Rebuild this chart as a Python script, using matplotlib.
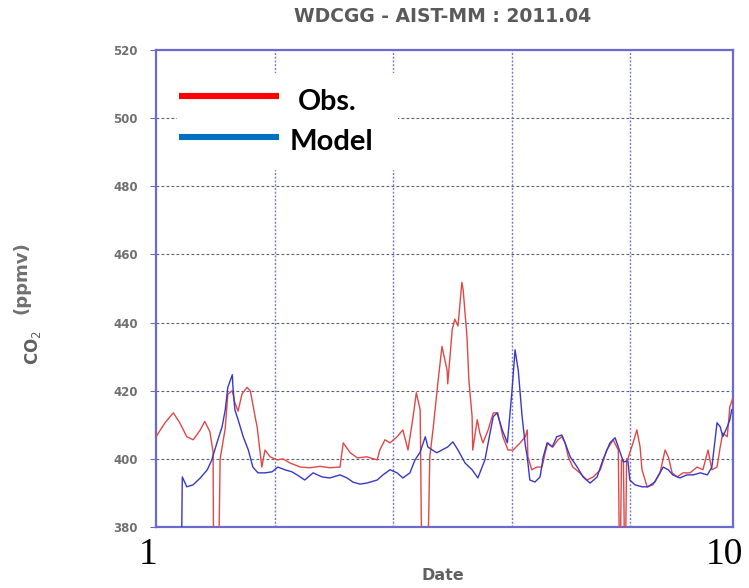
import matplotlib
matplotlib.use("Agg")
import matplotlib.pyplot as plt
from matplotlib.lines import Line2D
from matplotlib.patches import Rectangle

# ---- data (April 2011, station AIST-MM) ----
obs_date = [1.00, 1.14, 1.27, 1.37, 1.48, 1.58, 1.69, 1.76, 1.84, 1.89, 1.90, 1.97,
            2.00, 2.08, 2.12, 2.19, 2.23, 2.28, 2.34, 2.42, 2.47, 2.58, 2.65, 2.70,
            2.78, 2.89, 2.98, 3.09, 3.25, 3.40, 3.56, 3.71, 3.87, 3.92, 4.03, 4.14,
            4.29, 4.45, 4.49, 4.57, 4.65, 4.76, 4.85, 4.93, 5.01, 5.06, 5.12, 5.15,
            5.23, 5.27, 5.32, 5.40, 5.46, 5.54, 5.55, 5.62, 5.66, 5.71, 5.77, 5.79,
            5.85, 5.88, 5.93, 5.94, 6.01, 6.05, 6.10, 6.18, 6.26, 6.33, 6.41, 6.49,
            6.57, 6.68, 6.76, 6.79, 6.80, 6.86, 6.94, 7.02, 7.07, 7.11, 7.19, 7.27,
            7.33, 7.38, 7.43, 7.50, 7.61, 7.72, 7.82, 7.93, 8.03, 8.13, 8.21, 8.235,
            8.26, 8.29, 8.315, 8.34, 8.36, 8.44, 8.50, 8.55, 8.58, 8.66, 8.75, 8.86,
            8.94, 8.99, 9.05, 9.13, 9.22, 9.33, 9.44, 9.53, 9.61, 9.67, 9.75, 9.80,
            9.84, 9.91, 9.95, 10.00]
obs_co2 = [406.5, 410.6, 413.5, 410.6, 406.5, 405.6, 408.5, 411.0, 408.0, 402.0, 360, 360,
           400.0, 409.0, 419.0, 420.0, 416.5, 414.0, 419.0, 421.0, 420.0, 409.0, 397.6, 402.6,
           400.6, 399.7, 400.0, 398.8, 397.6, 397.4, 397.8, 397.4, 397.6, 404.7, 401.8, 400.3,
           400.6, 399.7, 402.6, 405.6, 404.7, 406.5, 408.5, 402.6, 412.4, 419.4, 414.4, 360,
           360, 400.6, 408.5, 423.0, 433.0, 426.0, 422.0, 438.0, 441.0, 439.0, 451.8, 449.7,
           435.9, 423.0, 412.4, 402.6, 411.5, 407.6, 404.7, 408.5, 413.5, 413.5, 406.5, 402.6,
           402.6, 404.7, 406.5, 408.5, 400.6, 396.8, 397.6, 397.6, 401.8, 404.7, 403.5, 405.6,
           406.5, 404.7, 400.6, 397.6, 395.9, 393.8, 394.7, 396.8, 402.6, 405.6, 402.6, 360,
           399.7, 399.7, 360, 400.0, 400.0, 404.7, 408.5, 403.5, 396.8, 391.8, 392.4, 395.9,
           402.6, 400.6, 395.9, 394.7, 395.9, 395.9, 397.6, 396.8, 402.6, 396.8, 397.6, 403.5,
           407.6, 406.5, 415.3, 418.0]

model_date = [1.39, 1.41, 1.48, 1.58, 1.69, 1.80, 1.87, 1.95, 2.03, 2.08, 2.12, 2.19,
              2.20, 2.23, 2.28, 2.36, 2.44, 2.51, 2.59, 2.70, 2.81, 2.90, 3.01, 3.12,
              3.20, 3.32, 3.45, 3.59, 3.71, 3.87, 3.98, 4.07, 4.18, 4.29, 4.45, 4.54,
              4.65, 4.76, 4.85, 4.96, 5.04, 5.12, 5.20, 5.24, 5.31, 5.38, 5.46, 5.55,
              5.63, 5.71, 5.82, 5.93, 6.02, 6.13, 6.21, 6.26, 6.32, 6.40, 6.48, 6.55,
              6.60, 6.65, 6.71, 6.76, 6.79, 6.83, 6.91, 6.99, 7.04, 7.10, 7.18, 7.25,
              7.33, 7.38, 7.46, 7.57, 7.66, 7.77, 7.88, 7.97, 8.08, 8.16, 8.21, 8.29,
              8.36, 8.39, 8.47, 8.58, 8.67, 8.78, 8.86, 8.91, 8.99, 9.06, 9.17, 9.28,
              9.38, 9.49, 9.60, 9.67, 9.75, 9.80, 9.84, 9.91, 9.95, 9.98]
model_co2 = [360, 394.7, 391.8, 392.4, 394.4, 396.8, 399.7, 404.7, 409.4, 414.4, 421.0, 424.7,
             421.0, 414.4, 411.5, 406.5, 402.6, 397.6, 395.9, 395.9, 396.2, 397.6, 396.8, 396.2,
             395.3, 393.8, 395.9, 394.7, 394.4, 395.3, 394.4, 393.2, 392.6, 392.9, 393.8, 395.3,
             396.8, 395.9, 394.4, 395.9, 399.7, 402.0, 406.5, 403.5, 402.6, 401.8, 402.6, 403.5,
             405.0, 402.6, 398.8, 396.8, 394.4, 399.7, 407.6, 412.4, 413.5, 408.5, 404.7, 419.4,
             432.0, 426.0, 412.4, 404.0, 400.6, 393.8, 393.2, 394.7, 400.6, 404.7, 403.5, 406.5,
             407.0, 404.7, 400.6, 397.6, 394.7, 392.9, 394.7, 399.7, 404.7, 406.2, 403.5, 399.1,
             399.4, 393.8, 392.4, 391.8, 391.8, 393.2, 395.9, 397.6, 396.8, 395.3, 394.4, 395.3,
             395.3, 395.9, 395.3, 397.6, 410.6, 409.4, 406.5, 409.4, 411.5, 414.4]

y_ticks = [380, 400, 420, 440, 460, 480, 500, 520]
x_grid = [2.85, 4.70, 6.55, 8.40]
x_labels = ["1", "10"]
series_names = ["Obs.", "Model"]

# ---- figure ----
fig = plt.figure(figsize=(7.49, 5.88), dpi=100)
ax = fig.add_axes([0.2083, 0.1037, 0.7704, 0.8113])

ax.set_xlim(1, 10)
ax.set_ylim(380, 520)

# grid
for y in y_ticks[1:-1]:
    ax.axhline(y, color="#5d5d78", lw=0.8, ls=(0, (2.5, 2)), zorder=1)
for x in x_grid:
    ax.axvline(x, color="#7a7ad0", lw=1.0, ls=(0, (1.5, 1.2)), zorder=1)

# series
ax.plot(obs_date, obs_co2, color="#e04848", lw=1.0, zorder=3)
ax.plot(model_date, model_co2, color="#3838c8", lw=1.0, zorder=4)

# axes styling
for s in ax.spines.values():
    s.set_color("#6a6ad0")
    s.set_linewidth(1.6)
ax.set_yticks(y_ticks)
ax.set_yticklabels([str(v) for v in y_ticks], fontsize=8.5, fontweight="bold",
                   color="#707070")
ax.tick_params(axis="y", length=4, width=0.8, color="#6a6ad0", pad=9)
ax.set_xticks([])

# x end labels (serif)
fig.text(148 / 749, 1 - 564 / 588, x_labels[0], fontsize=27,
         family="Liberation Serif", ha="center", va="baseline", color="black")
fig.text(724 / 749, 1 - 564 / 588, x_labels[1], fontsize=27,
         family="Liberation Serif", ha="center", va="baseline", color="black")

fig.text(443 / 749, 1 - 575 / 588, "Date", fontsize=11.5, fontweight="bold",
         color="#606060", ha="center", va="center")

fig.text(443 / 749, 1 - 17 / 588, "WDCGG - AIST-MM : 2011.04", fontsize=13.5,
         fontweight="bold", color="#5a5a5a", ha="center", va="center")

# y label
fig.text(33 / 749, 1 - 348 / 588, "CO$_2$", fontsize=12, fontweight="bold",
         color="#606060", rotation=90, ha="center", va="center")
fig.text(22 / 749, 1 - 278 / 588, "(ppmv)", fontsize=13, fontweight="bold",
         color="#707070", rotation=90, ha="center", va="center")

# legend box
ax.add_patch(Rectangle((0.036, 0.748), 0.383, 0.204, transform=ax.transAxes,
                       facecolor="white", edgecolor="none", zorder=6))
ax.add_line(Line2D([0.040, 0.213], [0.904, 0.904], transform=ax.transAxes,
                   color="#ff0000", lw=4.4, zorder=7, solid_capstyle="butt"))
ax.add_line(Line2D([0.040, 0.213], [0.818, 0.818], transform=ax.transAxes,
                   color="#0070c0", lw=4.4, zorder=7, solid_capstyle="butt"))
ax.text(0.246, 0.891, series_names[0], transform=ax.transAxes, fontsize=20.5,
        fontweight="bold", family="Lato", ha="left", va="center", zorder=8)
ax.text(0.232, 0.807, series_names[1], transform=ax.transAxes, fontsize=21,
        fontweight="bold", family="Lato", ha="left", va="center", zorder=8)

fig.savefig("out.png", dpi=100)
